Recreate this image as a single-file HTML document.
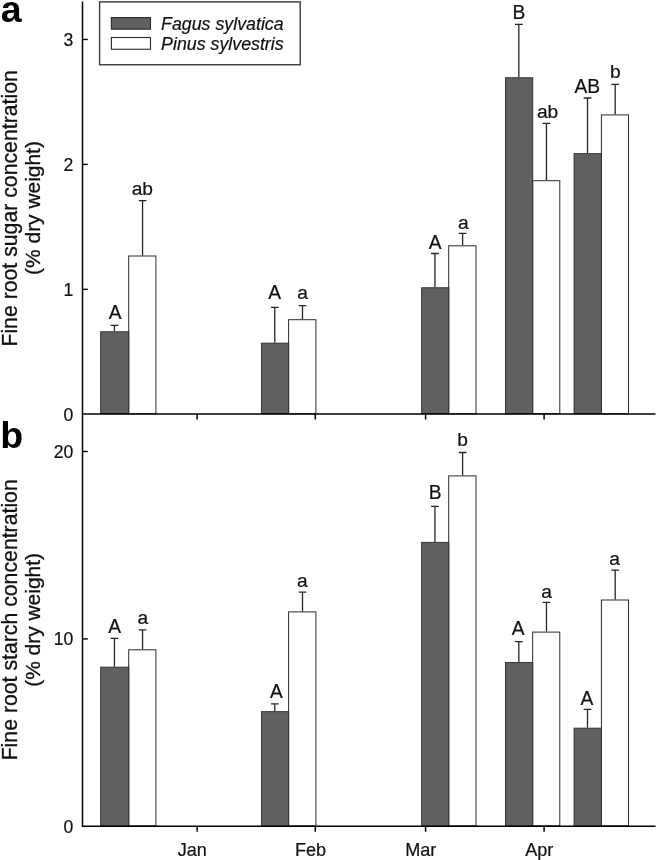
<!DOCTYPE html>
<html lang="en"><head><meta charset="utf-8"><title>Fine root sugar and starch concentration</title>
<style>html,body{margin:0;padding:0;background:#fff}svg{display:block;font-family:"Liberation Sans",sans-serif}</style></head>
<body>
<svg width="657" height="860" viewBox="0 0 657 860" fill="#111" role="img" aria-label="Fine root sugar and starch concentration of Fagus sylvatica and Pinus sylvestris, January to April">
<rect width="657" height="860" fill="#fff"/>
<path d="M114.45 331.30V325.30M110.60 325.30H118.30" stroke="#262626" stroke-width="1.3" fill="none"/>
<path d="M142.55 255.50V200.70M138.70 200.70H146.40" stroke="#262626" stroke-width="1.3" fill="none"/>
<rect x="128.70" y="256.00" width="27.20" height="157.70" fill="#fff" stroke="#2b2b2b" stroke-width="1.0"/>
<rect x="100.65" y="331.75" width="28.15" height="81.95" fill="#606060" stroke="#2b2b2b" stroke-width="0.9"/>
<text transform="translate(115.15 318.60) scale(1 1.06)" font-size="19.2" text-anchor="middle" stroke="#111" stroke-width="0.2">A</text>
<text x="142.35" y="195.30" font-size="19.2" text-anchor="middle" stroke="#111" stroke-width="0.2">ab</text>
<path d="M274.77 342.70V307.40M270.92 307.40H278.62" stroke="#262626" stroke-width="1.3" fill="none"/>
<path d="M302.50 319.20V305.60M298.65 305.60H306.35" stroke="#262626" stroke-width="1.3" fill="none"/>
<rect x="288.60" y="319.70" width="27.30" height="94.00" fill="#fff" stroke="#2b2b2b" stroke-width="1.0"/>
<rect x="261.40" y="343.15" width="27.30" height="70.55" fill="#606060" stroke="#2b2b2b" stroke-width="0.9"/>
<text transform="translate(274.77 299.20) scale(1 1.06)" font-size="19.2" text-anchor="middle" stroke="#111" stroke-width="0.2">A</text>
<text x="302.50" y="298.90" font-size="19.2" text-anchor="middle" stroke="#111" stroke-width="0.2">a</text>
<path d="M434.95 287.30V253.50M431.10 253.50H438.80" stroke="#262626" stroke-width="1.3" fill="none"/>
<path d="M462.60 245.30V233.40M458.75 233.40H466.45" stroke="#262626" stroke-width="1.3" fill="none"/>
<rect x="448.70" y="245.80" width="27.30" height="167.90" fill="#fff" stroke="#2b2b2b" stroke-width="1.0"/>
<rect x="421.65" y="287.75" width="27.15" height="125.95" fill="#606060" stroke="#2b2b2b" stroke-width="0.9"/>
<text transform="translate(435.25 248.60) scale(1 1.06)" font-size="19.2" text-anchor="middle" stroke="#111" stroke-width="0.2">A</text>
<text x="463.40" y="228.60" font-size="19.2" text-anchor="middle" stroke="#111" stroke-width="0.2">a</text>
<path d="M518.83 77.30V24.40M514.98 24.40H522.68" stroke="#262626" stroke-width="1.3" fill="none"/>
<path d="M546.47 180.20V123.40M542.62 123.40H550.32" stroke="#262626" stroke-width="1.3" fill="none"/>
<rect x="532.65" y="180.70" width="27.15" height="233.00" fill="#fff" stroke="#2b2b2b" stroke-width="1.0"/>
<rect x="505.45" y="77.75" width="27.30" height="335.95" fill="#606060" stroke="#2b2b2b" stroke-width="0.9"/>
<text transform="translate(518.83 18.90) scale(1 1.06)" font-size="19.2" text-anchor="middle" stroke="#111" stroke-width="0.2">B</text>
<text x="547.57" y="117.70" font-size="19.2" text-anchor="middle" stroke="#111" stroke-width="0.2">ab</text>
<path d="M587.50 153.20V98.00M583.65 98.00H591.35" stroke="#262626" stroke-width="1.3" fill="none"/>
<path d="M615.20 114.40V84.30M611.35 84.30H619.05" stroke="#262626" stroke-width="1.3" fill="none"/>
<rect x="601.40" y="114.90" width="27.10" height="298.80" fill="#fff" stroke="#2b2b2b" stroke-width="1.0"/>
<rect x="574.05" y="153.65" width="27.45" height="260.05" fill="#606060" stroke="#2b2b2b" stroke-width="0.9"/>
<text transform="translate(587.30 93.30) scale(1 1.06)" font-size="19.2" text-anchor="middle" stroke="#111" stroke-width="0.2">AB</text>
<text x="615.40" y="77.90" font-size="19.2" text-anchor="middle" stroke="#111" stroke-width="0.2">b</text>
<path d="M114.45 666.70V638.40M110.60 638.40H118.30" stroke="#262626" stroke-width="1.3" fill="none"/>
<path d="M142.55 649.30V629.80M138.70 629.80H146.40" stroke="#262626" stroke-width="1.3" fill="none"/>
<rect x="128.70" y="649.80" width="27.20" height="176.05" fill="#fff" stroke="#2b2b2b" stroke-width="1.0"/>
<rect x="100.65" y="667.15" width="28.15" height="158.70" fill="#606060" stroke="#2b2b2b" stroke-width="0.9"/>
<text transform="translate(114.65 632.50) scale(1 1.06)" font-size="19.2" text-anchor="middle" stroke="#111" stroke-width="0.2">A</text>
<text x="142.85" y="623.50" font-size="19.2" text-anchor="middle" stroke="#111" stroke-width="0.2">a</text>
<path d="M274.77 711.20V703.90M270.92 703.90H278.62" stroke="#262626" stroke-width="1.3" fill="none"/>
<path d="M302.50 611.40V592.20M298.65 592.20H306.35" stroke="#262626" stroke-width="1.3" fill="none"/>
<rect x="288.60" y="611.90" width="27.30" height="213.95" fill="#fff" stroke="#2b2b2b" stroke-width="1.0"/>
<rect x="261.40" y="711.65" width="27.30" height="114.20" fill="#606060" stroke="#2b2b2b" stroke-width="0.9"/>
<text transform="translate(276.38 697.70) scale(1 1.06)" font-size="19.2" text-anchor="middle" stroke="#111" stroke-width="0.2">A</text>
<text x="302.30" y="586.70" font-size="19.2" text-anchor="middle" stroke="#111" stroke-width="0.2">a</text>
<path d="M434.95 541.90V506.40M431.10 506.40H438.80" stroke="#262626" stroke-width="1.3" fill="none"/>
<path d="M462.60 475.40V452.50M458.75 452.50H466.45" stroke="#262626" stroke-width="1.3" fill="none"/>
<rect x="448.70" y="475.90" width="27.30" height="349.95" fill="#fff" stroke="#2b2b2b" stroke-width="1.0"/>
<rect x="421.65" y="542.35" width="27.15" height="283.50" fill="#606060" stroke="#2b2b2b" stroke-width="0.9"/>
<text transform="translate(435.15 499.30) scale(1 1.06)" font-size="19.2" text-anchor="middle" stroke="#111" stroke-width="0.2">B</text>
<text x="462.60" y="445.70" font-size="19.2" text-anchor="middle" stroke="#111" stroke-width="0.2">b</text>
<path d="M518.83 662.10V641.60M514.98 641.60H522.68" stroke="#262626" stroke-width="1.3" fill="none"/>
<path d="M546.47 631.60V602.30M542.62 602.30H550.32" stroke="#262626" stroke-width="1.3" fill="none"/>
<rect x="532.65" y="632.10" width="27.15" height="193.75" fill="#fff" stroke="#2b2b2b" stroke-width="1.0"/>
<rect x="505.45" y="662.55" width="27.30" height="163.30" fill="#606060" stroke="#2b2b2b" stroke-width="0.9"/>
<text transform="translate(518.23 634.90) scale(1 1.06)" font-size="19.2" text-anchor="middle" stroke="#111" stroke-width="0.2">A</text>
<text x="546.47" y="597.70" font-size="19.2" text-anchor="middle" stroke="#111" stroke-width="0.2">a</text>
<path d="M587.50 727.70V709.30M583.65 709.30H591.35" stroke="#262626" stroke-width="1.3" fill="none"/>
<path d="M615.20 599.50V570.20M611.35 570.20H619.05" stroke="#262626" stroke-width="1.3" fill="none"/>
<rect x="601.40" y="600.00" width="27.10" height="225.85" fill="#fff" stroke="#2b2b2b" stroke-width="1.0"/>
<rect x="574.05" y="728.15" width="27.45" height="97.70" fill="#606060" stroke="#2b2b2b" stroke-width="0.9"/>
<text transform="translate(587.00 704.70) scale(1 1.06)" font-size="19.2" text-anchor="middle" stroke="#111" stroke-width="0.2">A</text>
<text x="614.50" y="564.70" font-size="19.2" text-anchor="middle" stroke="#111" stroke-width="0.2">a</text>
<path d="M82.5 1.6V826.75" stroke="#000" stroke-width="1.5" fill="none"/>
<path d="M81.9 414.0H655.5M81.9 826.15H655.5" stroke="#000" stroke-width="1.5" fill="none"/>
<path d="M82.5 289.35h5.3" stroke="#000" stroke-width="1.4"/>
<path d="M82.5 164.40h5.3" stroke="#000" stroke-width="1.4"/>
<path d="M82.5 39.45h5.3" stroke="#000" stroke-width="1.4"/>
<path d="M82.5 638.90h5.3" stroke="#000" stroke-width="1.4"/>
<path d="M82.5 451.50h5.3" stroke="#000" stroke-width="1.4"/>
<text x="73.4" y="420.65" font-size="17.6" text-anchor="end" stroke="#111" stroke-width="0.2">0</text>
<text x="73.4" y="295.70" font-size="17.6" text-anchor="end" stroke="#111" stroke-width="0.2">1</text>
<text x="73.4" y="170.75" font-size="17.6" text-anchor="end" stroke="#111" stroke-width="0.2">2</text>
<text x="73.4" y="45.80" font-size="17.6" text-anchor="end" stroke="#111" stroke-width="0.2">3</text>
<text x="73.4" y="832.85" font-size="17.6" text-anchor="end" stroke="#111" stroke-width="0.2">0</text>
<text x="73.4" y="645.05" font-size="17.6" text-anchor="end" stroke="#111" stroke-width="0.2">10</text>
<text x="73.4" y="457.65" font-size="17.6" text-anchor="end" stroke="#111" stroke-width="0.2">20</text>
<path d="M197.15 414.0v5.6M197.15 826.15v5.6" stroke="#000" stroke-width="1.5"/>
<path d="M315.3 414.0v5.6M315.3 826.15v5.6" stroke="#000" stroke-width="1.5"/>
<path d="M425.6 414.0v5.6M425.6 826.15v5.6" stroke="#000" stroke-width="1.5"/>
<path d="M544.1 414.0v5.6M544.1 826.15v5.6" stroke="#000" stroke-width="1.5"/>
<text x="192.35" y="855.5" font-size="18.1" text-anchor="middle" stroke="#111" stroke-width="0.2">Jan</text>
<text x="310.50" y="855.5" font-size="18.1" text-anchor="middle" stroke="#111" stroke-width="0.2">Feb</text>
<text x="420.80" y="855.5" font-size="18.1" text-anchor="middle" stroke="#111" stroke-width="0.2">Mar</text>
<text x="539.30" y="855.5" font-size="18.1" text-anchor="middle" stroke="#111" stroke-width="0.2">Apr</text>
<rect x="99.6" y="1.9" width="200.6" height="62.85" fill="#fff" stroke="#3a3a3a" stroke-width="1.4"/>
<rect x="111.4" y="17.6" width="39.1" height="11.6" fill="#606060" stroke="#2b2b2b" stroke-width="1.1"/>
<rect x="111.4" y="37.5" width="39.1" height="11.75" fill="#fff" stroke="#2b2b2b" stroke-width="1.1"/>
<text x="161.1" y="30.15" font-size="17.8" font-style="italic" stroke="#111" stroke-width="0.2">Fagus sylvatica</text>
<text x="161.1" y="49.65" font-size="17.8" font-style="italic" stroke="#111" stroke-width="0.2">Pinus sylvestris</text>
<text x="0.8" y="21.6" font-size="37.5" font-weight="bold" fill="#000">a</text>
<text x="0.3" y="448.4" font-size="37.5" font-weight="bold" fill="#000">b</text>
<text transform="translate(16.5 208.4) rotate(-90)" font-size="21.25" text-anchor="middle" stroke="#111" stroke-width="0.3">Fine root sugar concentration</text>
<text transform="translate(40.2 208.0) rotate(-90)" font-size="20.95" text-anchor="middle" stroke="#111" stroke-width="0.3">(% dry weight)</text>
<text transform="translate(16.5 619.8) rotate(-90)" font-size="21.25" text-anchor="middle" stroke="#111" stroke-width="0.3">Fine root starch concentration</text>
<text transform="translate(40.2 619.9) rotate(-90)" font-size="20.95" text-anchor="middle" stroke="#111" stroke-width="0.3">(% dry weight)</text>
</svg>
</body></html>
